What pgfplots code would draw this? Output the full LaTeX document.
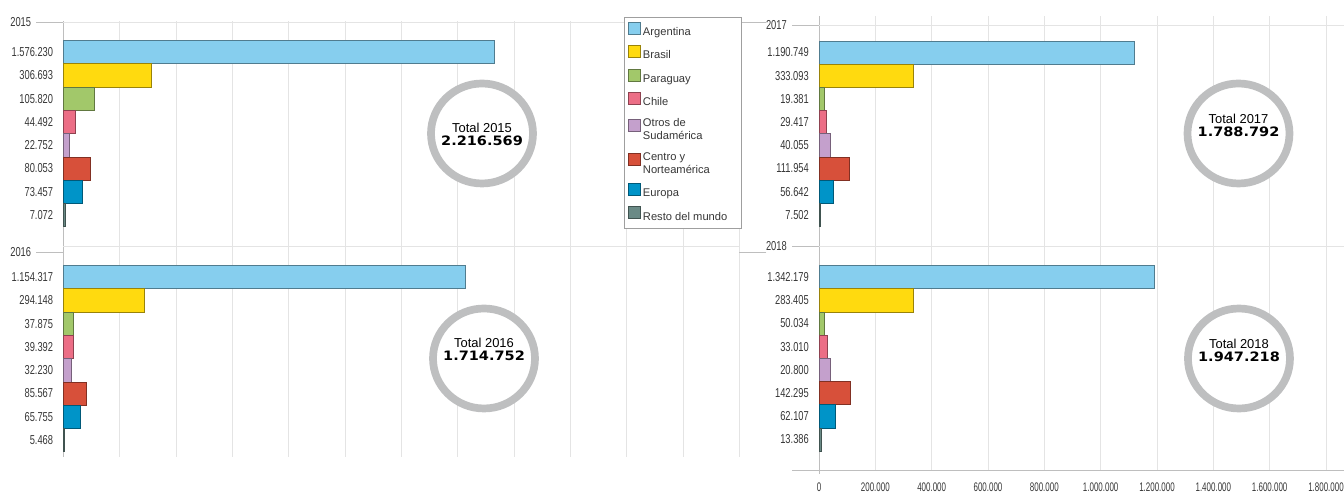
\documentclass[border=0pt]{standalone}
\usepackage{pgfplots}
\pgfplotsset{compat=1.18}
\usepackage{fontspec}
\setmainfont{Liberation Sans}
\newfontfamily\cond[FakeStretch=0.72]{Liberation Sans}
\newfontfamily\condx[FakeStretch=0.64]{Liberation Sans}
\newfontfamily\boldwide[FakeStretch=1.12]{DejaVu Sans}
\definecolor{cArg}{RGB}{134,206,238}
\definecolor{cBra}{RGB}{255,218,15}
\definecolor{cPar}{RGB}{162,200,106}
\definecolor{cChi}{RGB}{236,110,134}
\definecolor{cOtr}{RGB}{196,160,204}
\definecolor{cCen}{RGB}{215,80,58}
\definecolor{cEur}{RGB}{0,148,200}
\definecolor{cRes}{RGB}{106,138,134}
\definecolor{gridc}{RGB}{228,228,228}
\definecolor{axisc}{RGB}{190,190,190}
\definecolor{ringc}{RGB}{190,191,192}
\definecolor{labc}{RGB}{55,55,55}
\pgfplotsset{
  panel/.style={
    scale only axis, xmin=0, y dir=reverse, clip=false,
    scaled x ticks=false, scaled y ticks=false,
    axis line style={draw=none},
    xmajorgrids, major grid style={gridc, line width=0.8bp},
    major tick length=0pt,
    ytick={1,2,3,4,5,6,7,8},
    yticklabel style={font=\cond\fontsize{13}{13}\selectfont, text=labc, inner sep=0pt, xshift=-10bp},
    xticklabels={},
    extra x ticks={0}, extra x tick labels={},
    extra x tick style={grid=major, major grid style={axisc, line width=1bp}},
  },
  yearstyle/.style={
    extra y tick style={grid=#1, major grid style={gridc, line width=0.8bp},
      major tick length=27bp, tick align=outside, tick style={axisc, line width=0.8bp},
      yticklabel style={font=\cond\fontsize{13}{13}\selectfont, xshift=5bp}},
  },
  mybar/.style={xbar, bar width=23.2bp, bar shift=0pt, fill=#1, draw=#1!60!black, line width=0.5bp,
    legend image code/.code={\draw[fill=#1, draw=#1!60!black, line width=0.5bp] (0bp,-2.3bp) rectangle (12bp,9.7bp);}},
}
\newcommand\ringlabel[5]{%
  \draw[ringc, line width=7.7bp, fill=white] (axis cs:#1,#2) ellipse [x radius=51bp, y radius=50bp];
  \node[anchor=base, font=\fontsize{13}{13}\selectfont, inner sep=0pt] at ([yshift=#4]axis cs:#1,#2) {Total #3};
  \node[anchor=base, font=\boldwide\bfseries\fontsize{13}{13}\selectfont, inner sep=0pt] at ([yshift=#4-13bp]axis cs:#1,#2) {#5};
}
\begin{document}
\begin{tikzpicture}
\useasboundingbox (0,0) rectangle (1344bp,493bp);
% ---------------- 2015
\begin{axis}[panel, at={(63.3bp,247bp)}, anchor=south west, width=676bp, height=225bp,
  xmax=2400000, ymin=-0.33, ymax=9.326,
  xtick={200000,400000,600000,800000,1000000,1200000,1400000,1600000,1800000,2000000,2200000,2400000},
  yticklabels={1.576.230,306.693,105.820,44.492,22.752,80.053,73.457,7.072},
  extra y ticks={-0.28}, extra y tick labels={2015}, yearstyle=major,
  legend style={at={(axis description cs:0.8294,1.0178)}, anchor=north west, draw=gray!75, line width=0.6bp,
    font=\fontsize{11.2}{13}\selectfont, align=left, row sep=6.2bp, inner xsep=4bp, inner ysep=4.5bp,
    nodes={inner ysep=2bp, inner xsep=2.2bp, text=labc}},
  legend cell align=left]
\addplot[mybar=cArg] coordinates {(1530000,1)}; \addlegendentry{\strut Argentina}
\addplot[mybar=cBra] coordinates {(310700,2)}; \addlegendentry{\strut Brasil}
\addplot[mybar=cPar] coordinates {(110700,3)}; \addlegendentry{\strut Paraguay}
\addplot[mybar=cChi] coordinates {(42900,4)}; \addlegendentry{\strut Chile}
\addplot[mybar=cOtr] coordinates {(22800,5)}; \addlegendentry{\strut Otros de\\\strut Sudamérica}
\addplot[mybar=cCen] coordinates {(94000,6)}; \addlegendentry{\strut Centro y\\\strut Norteamérica}
\addplot[mybar=cEur] coordinates {(65700,7)}; \addlegendentry{\strut Europa}
\addplot[mybar=cRes] coordinates {(8600,8)}; \addlegendentry{\strut Resto del mundo\rule{8bp}{0pt}}
\ringlabel{1486500}{4.498}{2015}{1.3bp}{2.216.569}
\end{axis}
% ---------------- 2016
\begin{axis}[panel, at={(63.3bp,36bp)}, anchor=south west, width=676bp, height=211bp,
  xmax=2400000, ymin=-0.33, ymax=8.726,
  xtick={200000,400000,600000,800000,1000000,1200000,1400000,1600000,1800000,2000000,2200000,2400000},
  yticklabels={1.154.317,294.148,37.875,39.392,32.230,85.567,65.755,5.468},
  extra y ticks={-0.05}, extra y tick labels={2016}, yearstyle=none]
\addplot[mybar=cArg] coordinates {(1427000,1)};
\addplot[mybar=cBra] coordinates {(289000,2)};
\addplot[mybar=cPar] coordinates {(34400,3)};
\addplot[mybar=cChi] coordinates {(34400,4)};
\addplot[mybar=cOtr] coordinates {(29000,5)};
\addplot[mybar=cCen] coordinates {(82500,6)};
\addplot[mybar=cEur] coordinates {(60200,7)};
\addplot[mybar=cRes] coordinates {(5000,8)};
\draw[gridc, line width=0.8bp] (axis description cs:0,1) -- (axis description cs:1,1);
\ringlabel{1493600}{4.498}{2016}{11.3bp}{1.714.752}
\end{axis}
% ---------------- 2017
\begin{axis}[panel, at={(819bp,250bp)}, anchor=south west, width=525bp, height=227bp,
  xmax=1864000, ymin=-0.573, ymax=9.211,
  xtick={200000,400000,600000,800000,1000000,1200000,1400000,1600000,1800000},
  yticklabels={1.190.749,333.093,19.381,29.417,40.055,111.954,56.642,7.502},
  extra y ticks={-0.185}, extra y tick labels={2017}, yearstyle=major]
\addplot[mybar=cArg] coordinates {(1117500,1)};
\addplot[mybar=cBra] coordinates {(334700,2)};
\addplot[mybar=cPar] coordinates {(17800,3)};
\addplot[mybar=cChi] coordinates {(27300,4)};
\addplot[mybar=cOtr] coordinates {(38300,5)};
\addplot[mybar=cCen] coordinates {(107900,6)};
\addplot[mybar=cEur] coordinates {(51900,7)};
\addplot[mybar=cRes] coordinates {(5500,8)};
\ringlabel{1489400}{4.491}{2017}{9.5bp}{1.788.792}
\end{axis}
% ---------------- 2018
\begin{axis}[panel, at={(819bp,23bp)}, anchor=south west, width=525bp, height=227bp,
  xmax=1864000, ymin=-0.466, ymax=9.319,
  xtick={200000,400000,600000,800000,1000000,1200000,1400000,1600000,1800000},
  xticklabels={200.000,400.000,600.000,800.000,1.000.000,1.200.000,1.400.000,1.600.000,1.800.000},
  extra x tick labels={0},
  xticklabel style={font=\condx\fontsize{12.5}{12.5}\selectfont, text=labc, inner sep=0pt, yshift=-13bp},
  yticklabels={1.342.179,283.405,50.034,33.010,20.800,142.295,62.107,13.386},
  extra y ticks={-0.336}, extra y tick labels={2018}, yearstyle=major]
\addplot[mybar=cArg] coordinates {(1191800,1)};
\addplot[mybar=cBra] coordinates {(332900,2)};
\addplot[mybar=cPar] coordinates {(19200,3)};
\addplot[mybar=cChi] coordinates {(28800,4)};
\addplot[mybar=cOtr] coordinates {(39700,5)};
\addplot[mybar=cCen] coordinates {(112300,6)};
\addplot[mybar=cEur] coordinates {(56200,7)};
\addplot[mybar=cRes] coordinates {(6800,8)};
\draw[axisc, line width=0.9bp] (axis description cs:0,0) ++(-27bp,0pt) -- (axis description cs:1,0);
\draw[axisc, line width=0.9bp] (axis description cs:0,0) -- ++(0pt,-4bp);
\ringlabel{1491100}{4.513}{2018}{10bp}{1.947.218}
\end{axis}
\end{tikzpicture}
\end{document}
